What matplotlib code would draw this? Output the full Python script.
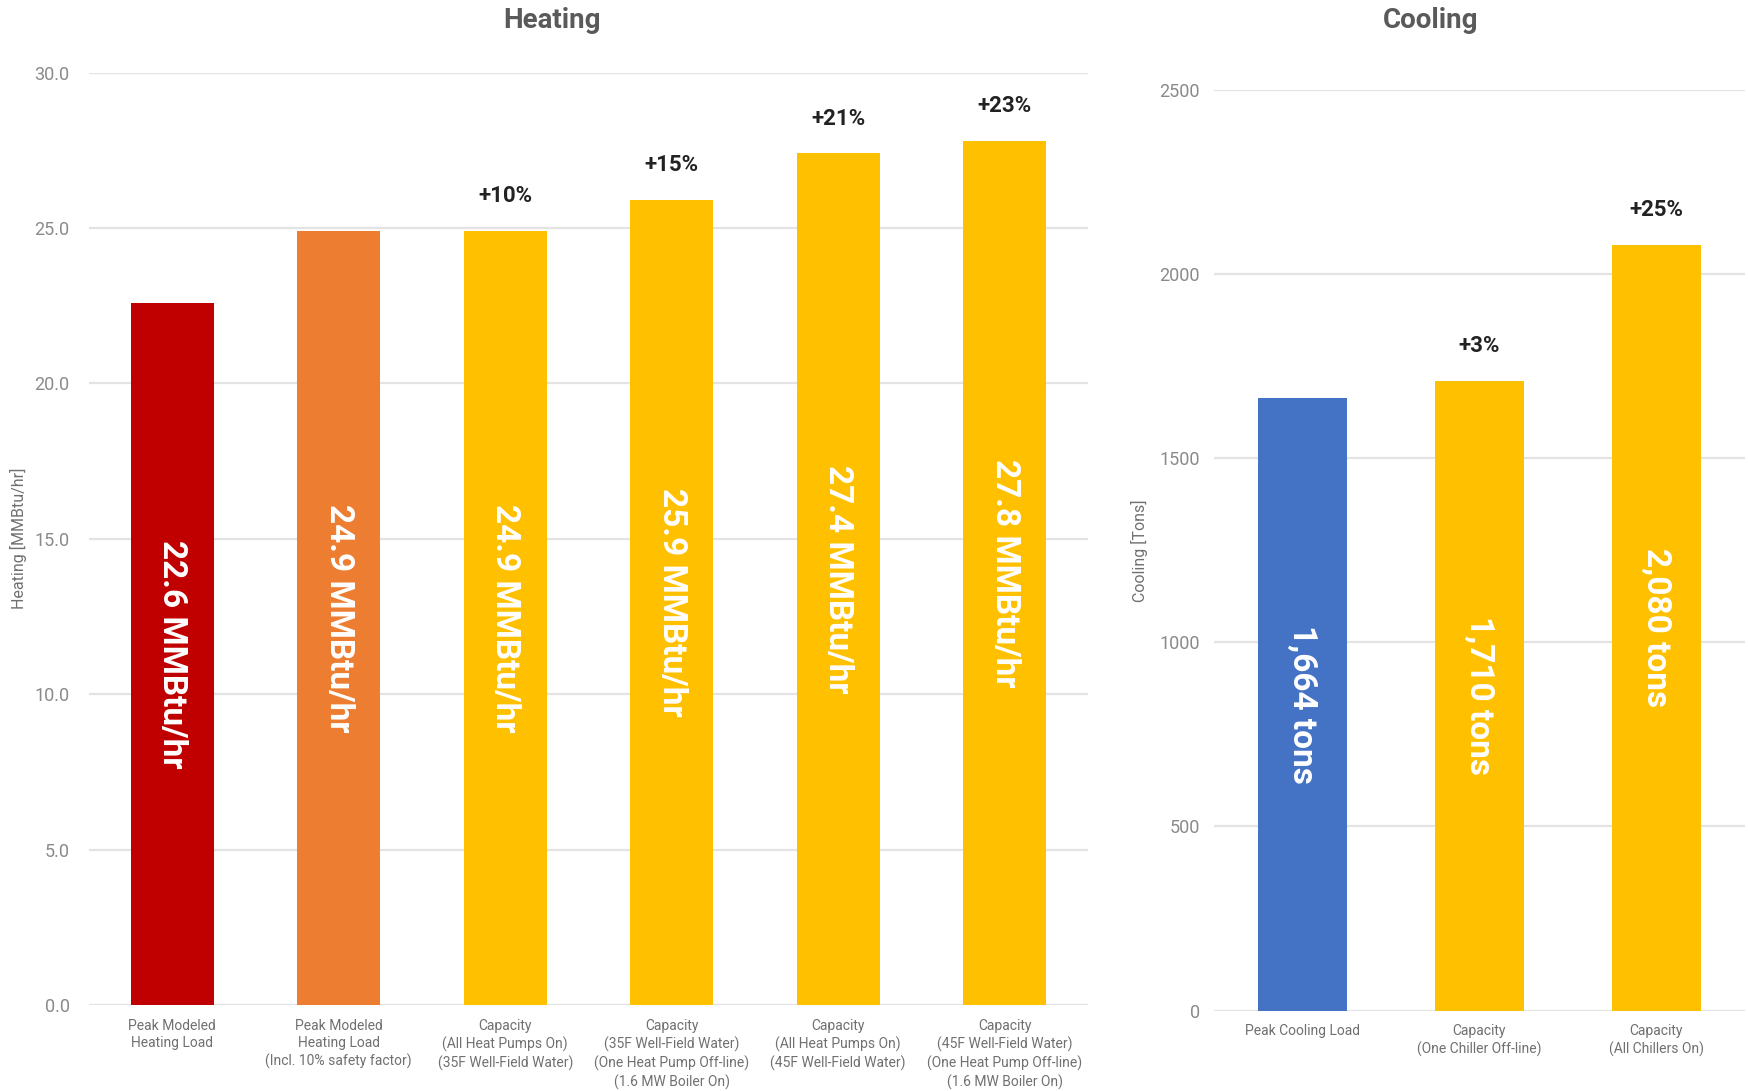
import matplotlib
matplotlib.use("Agg")
import matplotlib.pyplot as plt

plt.rcParams['font.family'] = ['Roboto', 'DejaVu Sans']

# Heating data
heat_labels = [
    "Peak Modeled\nHeating Load",
    "Peak Modeled\nHeating Load\n(Incl. 10% safety factor)",
    "Capacity\n(All Heat Pumps On)\n(35F Well-Field Water)",
    "Capacity\n(35F Well-Field Water)\n(One Heat Pump Off-line)\n(1.6 MW Boiler On)",
    "Capacity\n(All Heat Pumps On)\n(45F Well-Field Water)",
    "Capacity\n(45F Well-Field Water)\n(One Heat Pump Off-line)\n(1.6 MW Boiler On)",
]
heat_values = [22.6, 24.9, 24.9, 25.9, 27.4, 27.8]
heat_pct = ["", "", "+10%", "+15%", "+21%", "+23%"]
heat_colors = ["#C00000", "#ED7D31", "#FFC000", "#FFC000", "#FFC000", "#FFC000"]
heat_ticks = [0, 5, 10, 15, 20, 25, 30]

# Cooling data
cool_labels = [
    "Peak Cooling Load",
    "Capacity\n(One Chiller Off-line)",
    "Capacity\n(All Chillers On)",
]
cool_values = [1664, 1710, 2080]
cool_pct = ["", "+3%", "+25%"]
cool_colors = ["#4472C4", "#FFC000", "#FFC000"]
cool_ticks = [0, 500, 1000, 1500, 2000, 2500]

W, H = 1749, 1091
fig = plt.figure(figsize=(W / 100, H / 100), dpi=100)

def axes_px(x0, y_top, x1, y_bot):
    return fig.add_axes([x0 / W, 1 - y_bot / H, (x1 - x0) / W, (y_bot - y_top) / H])

ax1 = axes_px(89, 72.5, 1088, 1005)
ax2 = axes_px(1214, 90.3, 1745, 1010.5)

tick_color = "#8a8a8a"
grid_color = "#e3e3e3"

def style(ax, ticks, fmt, ylabel, ypad):
    ax.set_ylim(ticks[0], ticks[-1])
    ax.set_yticks(ticks)
    ax.set_yticklabels([fmt(t) for t in ticks])
    ax.yaxis.grid(True, color=grid_color, linewidth=1.6)
    ax.set_axisbelow(True)
    for s in ax.spines.values():
        s.set_visible(False)
    ax.tick_params(axis="both", length=0)
    ax.tick_params(axis="y", labelsize=13, labelcolor=tick_color, pad=ypad)
    ax.tick_params(axis="x", labelsize=10, labelcolor="#707070", pad=10)
    ax.set_ylabel(ylabel, fontsize=11.5, color="#707070")

def draw(ax, labels, values, colors, pct, fmt_val):
    x = range(len(values))
    bars = ax.bar(x, values, width=0.5, color=colors, zorder=2)
    ax.set_xlim(-0.5, len(values) - 0.5)
    ax.set_xticks(list(x))
    ax.set_xticklabels(labels, linespacing=1.3, va="top")
    for b, v, p in zip(bars, values, pct):
        cx = b.get_x() + b.get_width() / 2
        ax.text(cx, v / 2, fmt_val(v), rotation=270, ha="center", va="center",
                color="white", fontsize=24, fontweight="bold", zorder=3)
        if p:
            ax.annotate(p, (cx, v), xytext=(0, 25), textcoords="offset points",
                        ha="center", va="center", fontsize=16,
                        fontweight="bold", color="#222222")

draw(ax1, heat_labels, heat_values, heat_colors, heat_pct,
     lambda v: f"{v:.1f} MMBtu/hr")
style(ax1, heat_ticks, lambda t: f"{t:.1f}", "Heating [MMBtu/hr]", 14)
ax1.yaxis.set_label_coords(-0.062, 0.5)

draw(ax2, cool_labels, cool_values, cool_colors, cool_pct,
     lambda v: f"{v:,} tons")
style(ax2, cool_ticks, lambda t: f"{t}", "Cooling [Tons]", 10)
ax2.yaxis.set_label_coords(-0.125, 0.5)

fig.text(552 / W, 1 - 21 / H, "Heating", ha="center", va="center",
         fontsize=20, fontweight="bold", color="#5a5a5a")
fig.text(1431 / W, 1 - 21 / H, "Cooling", ha="center", va="center",
         fontsize=20, fontweight="bold", color="#5a5a5a")

fig.savefig("out.png", dpi=100, facecolor="white")
